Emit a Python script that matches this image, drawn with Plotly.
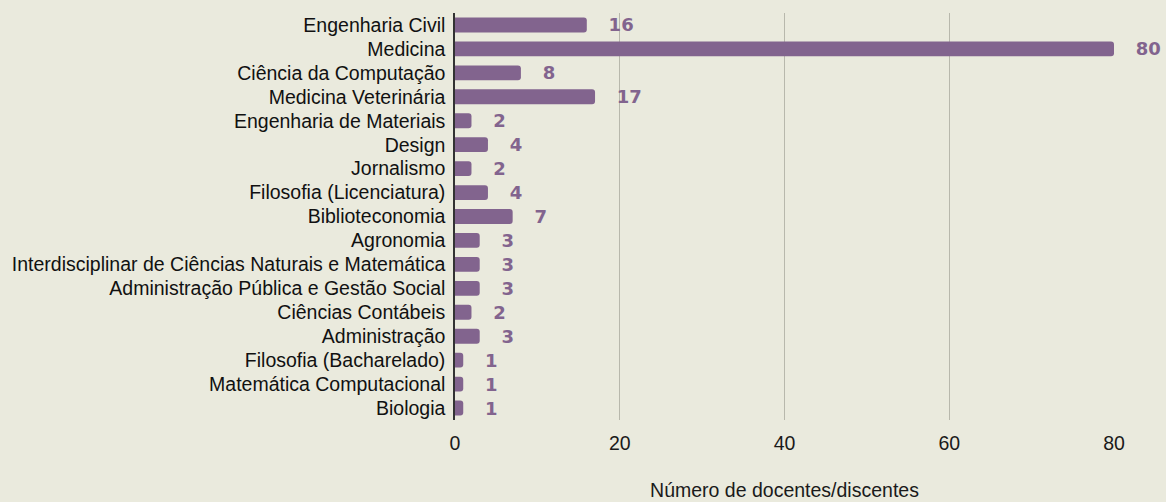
import plotly.graph_objects as go

categories = ["Engenharia Civil", "Medicina", "Ciência da Computação", "Medicina Veterinária",
              "Engenharia de Materiais", "Design", "Jornalismo", "Filosofia (Licenciatura)",
              "Biblioteconomia", "Agronomia", "Interdisciplinar de Ciências Naturais e Matemática",
              "Administração Pública e Gestão Social", "Ciências Contábeis", "Administração",
              "Filosofia (Bacharelado)", "Matemática Computacional", "Biologia"]
values = [16, 80, 8, 17, 2, 4, 2, 4, 7, 3, 3, 3, 2, 3, 1, 1, 1]
x_ticks = [0, 20, 40, 60, 80]
x_title = "Número de docentes/discentes"

bar_color = "#82648E"
bg = "#EAEADD"

fig = go.Figure()
fig.add_trace(go.Bar(
    y=categories, x=values, orientation="h",
    marker=dict(color=bar_color, line=dict(width=0)),
    width=0.62,
    texttemplate="   %{x}",
    textposition="outside",
    constraintext="none",
    textfont=dict(family="DejaVu Sans", size=18, color=bar_color, weight="bold"),
    cliponaxis=False,
    hoverinfo="skip",
))
fig.update_layout(
    width=1166, height=502,
    paper_bgcolor=bg, plot_bgcolor=bg,
    margin=dict(l=455, r=52, t=13, b=82, autoexpand=False),
    barcornerradius=3,
    showlegend=False,
    font=dict(family="Liberation Sans, Arial", size=19.5, color="#1a1a1a"),
)
fig.update_xaxes(range=[0, 80], tickvals=x_ticks, showgrid=True, gridcolor="#B8B8AC", gridwidth=1,
                 zeroline=False, showline=False, ticks="", ticklabelstandoff=9,
                 tickfont=dict(size=19.5, color="#1a1a1a"),
                 title=dict(text=x_title, font=dict(size=19.5, color="#1a1a1a"), standoff=30))
fig.update_yaxes(autorange="reversed", showline=True, linecolor="#333", linewidth=1.5,
                 ticks="", ticklabelstandoff=4, tickfont=dict(size=19.5, color="#111"))
fig.write_html("out.html", config={"displayModeBar": False},
               post_script="document.body.style.margin='0';document.body.style.background='#EAEADD';")
